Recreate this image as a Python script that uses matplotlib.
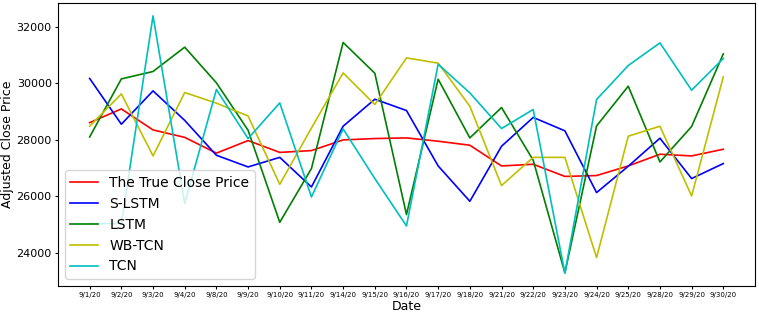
from matplotlib import pyplot as plt
import numpy as np

dates = ['9/1/20', '9/2/20', '9/3/20', '9/4/20', '9/8/20', '9/9/20', '9/10/20',
         '9/11/20', '9/14/20', '9/15/20', '9/16/20', '9/17/20', '9/18/20',
         '9/21/20', '9/22/20', '9/23/20', '9/24/20', '9/25/20', '9/28/20',
         '9/29/20', '9/30/20']

true_close = [28610, 29096, 28352, 28088, 27530, 27975, 27556, 27620, 27998, 28047,
              28069, 27952, 27810, 27076, 27136, 26705, 26736, 27076, 27491, 27431, 27668]
s_lstm = [30174, 28554, 29735, 28690, 27455, 27041, 27380, 26332, 28483, 29440,
          29039, 27076, 25825, 27774, 28795, 28320, 26133, 27066, 28058, 26630, 27161]
lstm = [28104, 30159, 30422, 31283, 30020, 28341, 25080, 26984, 31449, 30361,
        25354, 30149, 28069, 29146, 27278, 23290, 28494, 29901, 27218, 28473, 31045]
wb_tcn = [28483, 29628, 27431, 29677, 29300, 28845, 26425, 28420, 30372, 29252,
          30904, 30716, 29192, 26382, 27380, 27380, 23830, 28129, 28483, 26013, 30230]
tcn = [25040, 25035, 32392, 25744, 29784, 28047, 29309, 25978, 28387, 26630,
       24950, 30680, 29663, 28402, 29075, 23280, 29429, 30634, 31435, 29759, 30882]

fig = plt.figure(figsize=(7.59, 3.13), dpi=100)
ax = fig.add_axes([0.0764, 0.0863, 0.9183, 0.9041])

x = np.arange(len(dates))
lw = 1.2
ax.plot(x, true_close, color='r', lw=lw, label='The True Close Price')
ax.plot(x, s_lstm, color='b', lw=lw, label='S-LSTM')
ax.plot(x, lstm, color='g', lw=lw, label='LSTM')
ax.plot(x, wb_tcn, color='y', lw=lw, label='WB-TCN')
ax.plot(x, tcn, color='c', lw=lw, label='TCN')

ax.set_xticks(x)
ax.set_xticklabels(dates, fontsize=5)
ax.tick_params(axis='both', length=2.5, pad=2)
ax.tick_params(axis='y', labelsize=8)
ax.set_xlabel('Date', fontsize=9, labelpad=1)
ax.set_ylabel('Adjusted Close Price', fontsize=9, labelpad=2)
ax.legend(loc='lower left', fontsize=10)

fig.savefig('out.png', dpi=100)
